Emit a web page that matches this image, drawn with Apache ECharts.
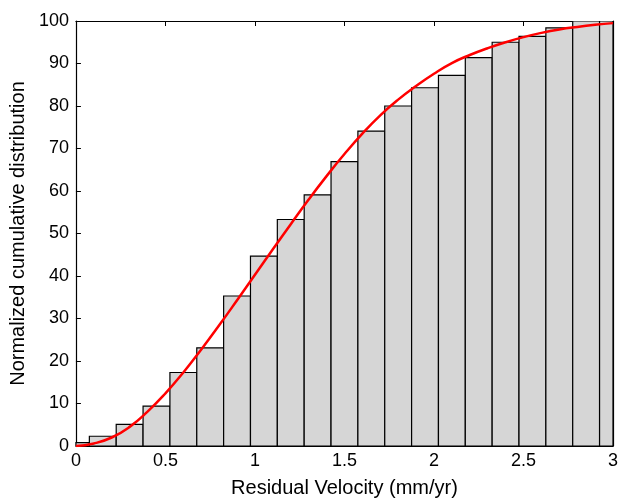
<!DOCTYPE html>
<html>
<head>
<meta charset="utf-8">
<script src="https://cdn.jsdelivr.net/npm/echarts@6/dist/echarts.min.js"></script>
<style>html,body{margin:0;padding:0;background:#fff}#c{width:621px;height:503px}</style>
</head>
<body>
<div id="c"></div>
<script>
// Histogram bins (centres) and cumulative percentages
const binCenters = [0, 0.15, 0.3, 0.45, 0.6, 0.75, 0.9, 1.05, 1.2, 1.35, 1.5, 1.65, 1.8, 1.95, 2.1, 2.25, 2.4, 2.55, 2.7, 2.85, 3.0];
const binValues  = [0.8, 2.3, 5.1, 9.4, 17.3, 23.1, 35.3, 44.7, 53.3, 59.1, 66.9, 74.1, 80.0, 84.3, 87.2, 91.4, 95.0, 96.4, 98.4, 100, 100];
const binWidth = 0.15;
// Fitted cumulative curve
const fitX = [0, 0.1, 0.2, 0.3, 0.4, 0.5, 0.6, 0.7, 0.8, 0.9, 1.0, 1.1, 1.2, 1.3, 1.4, 1.5, 1.6, 1.7, 1.8, 1.9, 2.0, 2.1, 2.2, 2.3, 2.4, 2.5, 2.6, 2.7, 2.8, 2.9, 3.0];
const fitY = [0, 0.6, 2.0, 4.5, 8.1, 12.4, 17.3, 22.7, 28.4, 34.3, 40.3, 46.3, 52.2, 58.0, 63.5, 68.7, 73.5, 77.8, 81.5, 84.7, 87.6, 90.1, 92.0, 93.6, 95.0, 96.2, 97.2, 98.0, 98.6, 99.1, 99.5];
const xTicks = [0, 0.5, 1, 1.5, 2, 2.5, 3];
const yTicks = [0, 10, 20, 30, 40, 50, 60, 70, 80, 90, 100];

const chart = echarts.init(document.getElementById('c'), null, {renderer: 'canvas'});
const FONT = 'Liberation Sans, Arial, Helvetica, sans-serif';
const axisCommon = {
  axisLine: {show: true, onZero: false, lineStyle: {color: '#000', width: 1.2}},
  axisTick: {show: true, inside: true, length: 5, lineStyle: {color: '#000'}},
  splitLine: {show: false}
};
chart.setOption({
  animation: false,
  backgroundColor: '#fff',
  grid: {left: 73, right: 4, top: 21, bottom: 52, containLabel: false},
  xAxis: [
    Object.assign({
      type: 'value', min: 0, max: 3, interval: 0.5, position: 'bottom',
      name: 'Residual Velocity (mm/yr)', nameLocation: 'middle', nameGap: 32,
      nameTextStyle: {fontFamily: FONT, fontSize: 20, color: '#000'},
      axisLabel: {fontFamily: FONT, fontSize: 18, color: '#000', margin: 6,
        formatter: v => (xTicks.indexOf(v) >= 0 ? String(v) : '')}
    }, axisCommon),
    Object.assign({
      type: 'value', min: 0, max: 3, interval: 0.5, position: 'top',
      axisLabel: {show: false}
    }, axisCommon)
  ],
  yAxis: [
    Object.assign({
      type: 'value', min: 0, max: 100, interval: 10, position: 'left',
      name: 'Normalized cumulative distribution', nameLocation: 'middle', nameGap: 46,
      nameTextStyle: {fontFamily: FONT, fontSize: 20, color: '#000'},
      axisLabel: {fontFamily: FONT, fontSize: 18, color: '#000', margin: 7,
        formatter: v => (yTicks.indexOf(v) >= 0 ? String(v) : '')}
    }, axisCommon),
    Object.assign({
      type: 'value', min: 0, max: 100, interval: 10, position: 'right',
      axisLabel: {show: false}
    }, axisCommon)
  ],
  series: [
    {
      type: 'custom',
      xAxisIndex: 0, yAxisIndex: 0,
      clip: true,
      data: binCenters.map((c, i) => [c, binValues[i]]),
      renderItem: function (params, api) {
        const c = api.value(0), v = api.value(1);
        const x0 = Math.max(0, c - binWidth / 2), x1 = Math.min(3, c + binWidth / 2);
        const p0 = api.coord([x0, v]);
        const p1 = api.coord([x1, 0]);
        return {
          type: 'rect',
          shape: {x: p0[0], y: p0[1], width: p1[0] - p0[0], height: p1[1] - p0[1]},
          style: {fill: '#d6d6d6', stroke: '#000', lineWidth: 1.2}
        };
      },
      z: 2
    },
    {
      type: 'line',
      xAxisIndex: 0, yAxisIndex: 0,
      data: fitX.map((x, i) => [x, fitY[i]]),
      smooth: true,
      showSymbol: false,
      lineStyle: {color: '#ff0000', width: 2.5},
      z: 3
    }
  ]
});
</script>
</body>
</html>
